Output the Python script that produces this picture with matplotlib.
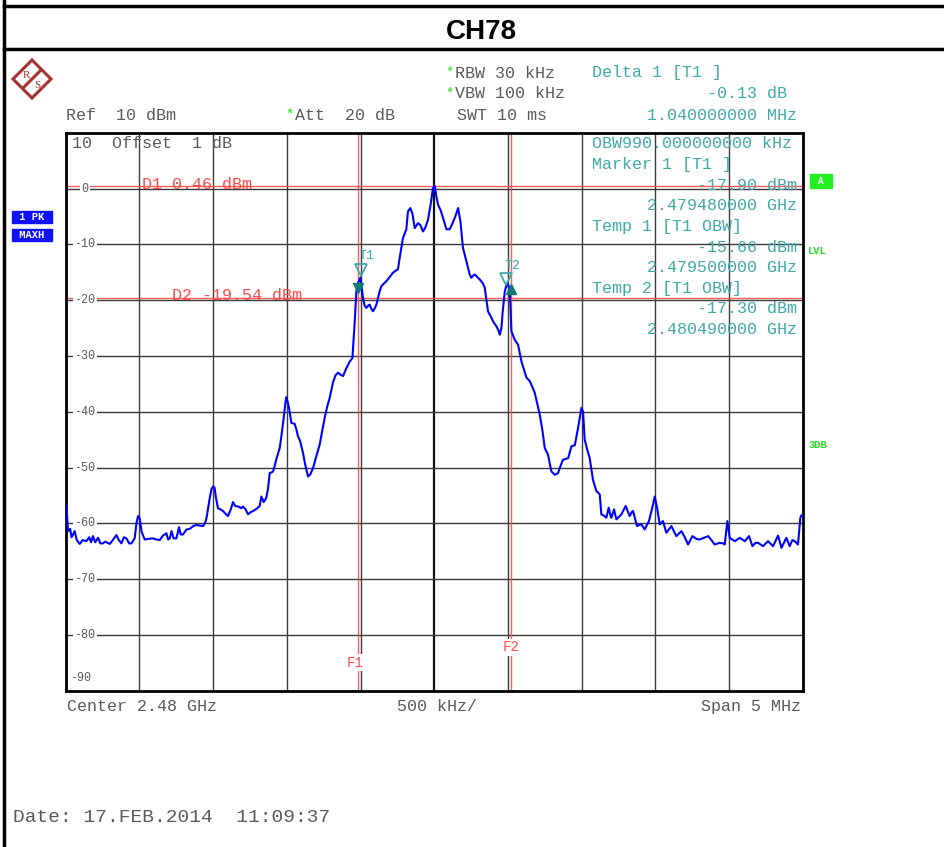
import matplotlib
matplotlib.use("Agg")
import matplotlib.pyplot as plt
from matplotlib.lines import Line2D
from matplotlib.patches import Polygon
import matplotlib.transforms as mtransforms

# ---------------- data ----------------
title = "CH78"
freq_mhz = [
    2477.500, 2477.505, 2477.516, 2477.530, 2477.540, 2477.550, 2477.561, 2477.575, 2477.595, 2477.615,
    2477.640, 2477.660, 2477.672, 2477.685, 2477.700, 2477.720, 2477.735, 2477.751, 2477.770, 2477.799,
    2477.820, 2477.844, 2477.860, 2477.878, 2477.895, 2477.912, 2477.930, 2477.946, 2477.968, 2477.980,
    2477.991, 2478.002, 2478.015, 2478.036, 2478.060, 2478.092, 2478.115, 2478.138, 2478.160, 2478.183,
    2478.195, 2478.206, 2478.218, 2478.232, 2478.251, 2478.269, 2478.280, 2478.296, 2478.320, 2478.341,
    2478.365, 2478.387, 2478.410, 2478.431, 2478.445, 2478.455, 2478.477, 2478.490, 2478.499, 2478.510,
    2478.518, 2478.533, 2478.550, 2478.567, 2478.585, 2478.601, 2478.620, 2478.635, 2478.650, 2478.672,
    2478.690, 2478.703, 2478.720, 2478.737, 2478.755, 2478.771, 2478.795, 2478.816, 2478.828, 2478.843,
    2478.860, 2478.872, 2478.884, 2478.895, 2478.907, 2478.920, 2478.929, 2478.952, 2478.963, 2478.979,
    2478.990, 2478.997, 2479.005, 2479.015, 2479.031, 2479.054, 2479.065, 2479.076, 2479.090, 2479.110,
    2479.125, 2479.144, 2479.160, 2479.178, 2479.200, 2479.223, 2479.240, 2479.257, 2479.275, 2479.291,
    2479.313, 2479.330, 2479.348, 2479.365, 2479.382, 2479.404, 2479.427, 2479.445, 2479.461, 2479.472,
    2479.479, 2479.490, 2479.499, 2479.507, 2479.517, 2479.528, 2479.540, 2479.551, 2479.562, 2479.574,
    2479.585, 2479.596, 2479.608, 2479.630, 2479.642, 2479.660, 2479.676, 2479.700, 2479.720, 2479.740,
    2479.754, 2479.766, 2479.788, 2479.811, 2479.822, 2479.838, 2479.852, 2479.868, 2479.880, 2479.890,
    2479.905, 2479.924, 2479.940, 2479.958, 2479.975, 2479.992, 2480.004, 2480.015, 2480.026, 2480.045,
    2480.060, 2480.083, 2480.105, 2480.120, 2480.139, 2480.150, 2480.162, 2480.178, 2480.195, 2480.218,
    2480.241, 2480.252, 2480.265, 2480.275, 2480.290, 2480.309, 2480.330, 2480.343, 2480.365, 2480.385,
    2480.399, 2480.422, 2480.435, 2480.445, 2480.456, 2480.465, 2480.479, 2480.495, 2480.505, 2480.513,
    2480.524, 2480.546, 2480.569, 2480.592, 2480.626, 2480.648, 2480.665, 2480.682, 2480.716, 2480.735,
    2480.750, 2480.772, 2480.795, 2480.818, 2480.840, 2480.860, 2480.874, 2480.890, 2480.909, 2480.931,
    2480.954, 2480.976, 2480.999, 2481.010, 2481.021, 2481.040, 2481.055, 2481.077, 2481.100, 2481.123,
    2481.134, 2481.150, 2481.168, 2481.184, 2481.195, 2481.202, 2481.220, 2481.236, 2481.255, 2481.270,
    2481.299, 2481.326, 2481.340, 2481.349, 2481.376, 2481.390, 2481.406, 2481.428, 2481.457, 2481.485,
    2481.496, 2481.512, 2481.530, 2481.552, 2481.575, 2481.609, 2481.643, 2481.677, 2481.700, 2481.722,
    2481.752, 2481.780, 2481.801, 2481.830, 2481.859, 2481.880, 2481.903, 2481.937, 2481.960, 2481.971,
    2481.989, 2482.005, 2482.039, 2482.073, 2482.107, 2482.136, 2482.159, 2482.180, 2482.197, 2482.231,
    2482.265, 2482.299, 2482.333, 2482.356, 2482.389, 2482.412, 2482.430, 2482.446, 2482.468, 2482.484,
    2482.491, 2482.500,
]
level_dbm = [
    -57.0, -56.9, -61.4, -61.0, -62.5, -62.0, -61.4, -63.0, -63.7, -63.0,
    -63.2, -62.5, -63.4, -62.3, -63.4, -62.6, -63.6, -63.6, -63.3, -63.7,
    -63.0, -62.1, -63.0, -63.6, -62.5, -62.7, -63.6, -63.6, -62.7, -60.0,
    -58.7, -59.1, -61.5, -62.9, -62.8, -62.7, -62.9, -63.0, -62.2, -61.8,
    -62.9, -62.7, -61.4, -62.7, -62.7, -60.7, -62.0, -62.0, -61.1, -61.0,
    -60.5, -60.3, -60.4, -60.5, -60.0, -59.1, -55.5, -53.8, -53.4, -53.6,
    -55.2, -57.3, -57.5, -57.8, -58.3, -58.7, -57.5, -56.2, -56.9, -57.0,
    -57.3, -57.0, -57.5, -58.4, -58.0, -57.8, -57.4, -56.9, -55.2, -56.2,
    -55.5, -53.9, -51.0, -50.9, -50.7, -49.5, -48.5, -46.5, -44.4, -41.1,
    -38.5, -37.4, -38.2, -39.3, -42.0, -42.2, -43.2, -44.4, -45.2, -47.4,
    -49.5, -51.6, -51.2, -50.1, -48.0, -45.9, -43.5, -41.1, -39.0, -37.5,
    -34.8, -33.5, -33.0, -33.4, -33.6, -32.2, -31.0, -30.4, -23.8, -18.4,
    -17.2, -16.5, -16.0, -17.5, -19.6, -21.0, -21.4, -21.0, -20.8, -21.6,
    -22.0, -21.5, -20.8, -18.4, -17.5, -17.0, -16.6, -15.8, -15.1, -14.7,
    -14.5, -12.4, -8.9, -7.3, -4.1, -3.5, -4.5, -7.1, -6.6, -6.2,
    -6.5, -7.7, -7.0, -5.6, -3.0, 0.1, 0.46, -1.5, -2.9, -4.0,
    -5.3, -7.3, -7.3, -6.5, -5.3, -4.5, -3.5, -5.9, -10.6, -13.0,
    -15.4, -16.0, -15.6, -15.4, -15.8, -16.3, -17.0, -17.8, -22.0, -23.0,
    -23.8, -24.7, -25.4, -26.2, -25.0, -22.0, -18.4, -16.9, -17.5, -18.4,
    -25.6, -27.1, -28.0, -31.0, -33.9, -34.5, -35.5, -36.6, -40.5, -43.5,
    -46.5, -47.7, -50.7, -51.3, -51.0, -49.5, -48.6, -48.5, -48.3, -46.2,
    -46.0, -42.9, -39.3, -40.0, -45.0, -47.0, -48.3, -52.2, -54.2, -54.8,
    -58.4, -58.6, -59.0, -57.2, -58.5, -59.0, -57.5, -59.3, -58.8, -58.4,
    -56.9, -58.7, -58.0, -57.8, -60.5, -60.3, -60.2, -61.1, -59.6, -56.6,
    -55.2, -57.2, -60.2, -59.6, -61.7, -60.5, -62.3, -61.4, -62.5, -63.8,
    -62.3, -62.8, -62.9, -62.6, -62.3, -63.0, -63.8, -63.5, -63.6, -63.8,
    -59.6, -62.6, -63.2, -62.6, -63.2, -62.3, -64.1, -63.5, -63.5, -64.1,
    -63.2, -64.1, -62.2, -64.4, -62.6, -64.1, -63.0, -63.2, -63.8, -59.0,
    -58.6, -58.5,
]
center_mhz = 2480.0
span_mhz = 5.0
ref_level = 10
y_bottom = -90
y_tick_values = [0, -10, -20, -30, -40, -50, -60, -70, -80]
d1_level, d1_label = 0.46, "D1 0.46 dBm"
d2_level, d2_label = -19.54, "D2 -19.54 dBm"
f1_mhz, f2_mhz = 2479.48, 2480.52
marker1 = (2479.48, -17.90)
delta1 = (2480.52, -18.03)
temp1 = (2479.50, -15.66)
temp2 = (2480.49, -17.30)
info_lines = [
    ("OBW990.000000000 kHz", "l"),
    ("Marker 1 [T1 ]", "l"),
    ("-17.90 dBm", "r"),
    ("2.479480000 GHz", "r"),
    ("Temp 1 [T1 OBW]", "l"),
    ("-15.66 dBm", "r"),
    ("2.479500000 GHz", "r"),
    ("Temp 2 [T1 OBW]", "l"),
    ("-17.30 dBm", "r"),
    ("2.480490000 GHz", "r"),
]

# ---------------- figure ----------------
W, H = 945, 847
fig = plt.figure(figsize=(W / 100, H / 100), dpi=100)
fig.patch.set_facecolor("white")

MONO = "Liberation Mono"
GRAY = "#5a5a5a"
TEAL = "#40a8a8"
RED = "#ff4a4a"
GREEN = "#22dd22"


def fx(x):
    return x / W


def fy(y):
    return 1 - y / H


def ftext(x, y, s, **kw):
    kw.setdefault("family", MONO)
    kw.setdefault("color", GRAY)
    kw.setdefault("fontsize", 12)
    kw.setdefault("va", "center")
    fig.text(fx(x), fy(y), s, **kw)


def fline(xs, ys, **kw):
    fig.add_artist(Line2D([fx(v) for v in xs], [fy(v) for v in ys],
                          transform=fig.transFigure, **kw))


# page frame
fline([4, 945], [6, 6], color="black", lw=2.5)
fline([4, 945], [49, 49], color="black", lw=2.5)
fline([4, 4], [0, 847], color="black", lw=2.5)
fig.text(fx(481), fy(32), title, ha="center", va="center", fontsize=20,
         fontweight="bold", family="Liberation Sans", color="black")

# R&S logo
cx, cy, r = 32, 79, 19
LOGO = "#a83232"
logo = Polygon([(fx(cx), fy(cy - r)), (fx(cx + r), fy(cy)), (fx(cx), fy(cy + r)),
                (fx(cx - r), fy(cy))], closed=True, fill=False, ec=LOGO, lw=2.2,
               transform=fig.transFigure)
fig.add_artist(logo)
fline([cx + 8, cx - 8], [cy - 8, cy + 8], color=LOGO, lw=2.2)
ftext(cx - 6, cy - 4, "R", fontsize=8, color=LOGO, ha="center", family="Liberation Serif")
ftext(cx + 5, cy + 7, "S", fontsize=8, color=LOGO, ha="center", family="Liberation Serif")

# header texts
ftext(445, 73, "*", color=GREEN, fontsize=10, ha="left")
ftext(455, 73, "RBW 30 kHz", ha="left")
ftext(445, 94, "*", color=GREEN, fontsize=10, ha="left")
ftext(455, 94, "VBW 100 kHz", ha="left")
ftext(66, 115, "Ref  10 dBm", ha="left")
ftext(285, 115, "*", color=GREEN, fontsize=10, ha="left")
ftext(295, 115, "Att  20 dB", ha="left")
ftext(457, 115, "SWT 10 ms", ha="left")
ftext(592, 73, "Delta 1 [T1 ]", color=TEAL, ha="left")
ftext(787, 94, "-0.13 dB", color=TEAL, ha="right")
ftext(797, 115, "1.040000000 MHz", color=TEAL, ha="right")

# side labels
for yy, s in [(217, " 1 PK "), (235, " MAXH ")]:
    ftext(32, yy, s, color="white", fontsize=7.5, fontweight="bold", ha="center",
          bbox=dict(boxstyle="square,pad=0.12", fc="#1010ff", ec="#1010ff"))
ftext(821, 181, " A ", color="white", fontsize=7, fontweight="bold", ha="center",
      bbox=dict(boxstyle="square,pad=0.25", fc="#22ee22", ec="#22ee22"))
ftext(808, 251, "LVL", color=GREEN, fontsize=7.5, fontweight="bold", ha="left")
ftext(808, 445, "3DB", color=GREEN, fontsize=7.5, fontweight="bold", ha="left")

# ---------------- plot area ----------------
L, R_, T, B = 65.7, 802.7, 132.7, 690.7
ax = fig.add_axes([fx(L), fy(B), (R_ - L) / W, (B - T) / H])
x0 = center_mhz - span_mhz / 2
x1 = center_mhz + span_mhz / 2
ax.set_xlim(x0, x1)
ax.set_ylim(y_bottom, ref_level)
ax.set_xticks([])
ax.set_yticks([])
for sp in ax.spines.values():
    sp.set_linewidth(2)
    sp.set_color("black")

# grid
for i in range(1, 10):
    fv = x0 + i * span_mhz / 10
    ax.axvline(fv, color="#111111" if i == 5 else "#3a3a3a",
               lw=1.6 if i == 5 else 1.0, zorder=1)
for v in y_tick_values:
    ax.axhline(v, color="#3a3a3a", lw=1.0, zorder=1)

# reference lines
for lvl in (d1_level, d2_level):
    ax.axhline(lvl, color=RED, lw=1.0, zorder=2, alpha=0.9)
for fv in (f1_mhz, f2_mhz):
    ax.axvline(fv, color=RED, lw=1.0, zorder=2, alpha=0.9)

# trace
ax.plot(freq_mhz, level_dbm, color="#0000ff", lw=1.5, zorder=4)

# y labels inside the plot
for v in y_tick_values:
    ax.text(x0 + 0.13, v, str(v), family=MONO, fontsize=8.5,
            color=GRAY, ha="center", va="center", zorder=3,
            bbox=dict(boxstyle="square,pad=0.1", fc="white", ec="none"))
ax.text(x0 + 0.03, y_bottom + 2.2, "-90", family=MONO, fontsize=8.5, color=GRAY,
        ha="left", va="center", zorder=3)
ax.text(x0 + 0.04, ref_level - 1.9, "10  Offset  1 dB", family=MONO, fontsize=12,
        color=GRAY, ha="left", va="center", zorder=5)

# D1 / D2 labels
ax.text(2478.02, d1_level + 0.3, d1_label, family=MONO, fontsize=12, color=RED,
        ha="left", va="center", zorder=5)
ax.text(2478.22, d2_level + 0.3, d2_label, family=MONO, fontsize=12, color=RED,
        ha="left", va="center", zorder=5)

# F1 / F2 labels
ax.text(f1_mhz - 0.02, -85.0, "F1", family=MONO, fontsize=10, color=RED,
        ha="center", va="center", zorder=5,
        bbox=dict(boxstyle="square,pad=0.1", fc="white", ec="none"))
ax.text(f2_mhz, -82.2, "F2", family=MONO, fontsize=10, color=RED,
        ha="center", va="center", zorder=5,
        bbox=dict(boxstyle="square,pad=0.1", fc="white", ec="none"))

# markers
up = mtransforms.offset_copy(ax.transData, fig=fig, x=0, y=4, units="points")
ax.plot([temp1[0], temp2[0]], [temp1[1], temp2[1]], marker="v", ls="none",
        ms=8, mfc="none", mec=TEAL, mew=1.3, transform=up, zorder=6)
ax.plot([marker1[0]], [marker1[1]], marker="v", ls="none", ms=7,
        color="#137a70", zorder=6)
ax.plot([delta1[0]], [delta1[1]], marker="^", ls="none", ms=7,
        color="#137a70", zorder=6)
ax.text(temp1[0] + 0.04, temp1[1] + 3.5, "T1", family=MONO, fontsize=9.5,
        color=TEAL, ha="center", va="center", zorder=6)
ax.text(temp2[0] + 0.04, temp2[1] + 3.5, "T2", family=MONO, fontsize=9.5,
        color=TEAL, ha="center", va="center", zorder=6)

# info block inside the plot
for i, (s, al) in enumerate(info_lines):
    yy = 144 + i * 20.6
    if al == "l":
        ftext(592, yy, s, color=TEAL, ha="left", zorder=10)
    else:
        ftext(797, yy, s, color=TEAL, ha="right", zorder=10)

# footer
ftext(67, 706, "Center 2.48 GHz", ha="left")
ftext(437, 706, "500 kHz/", ha="center")
ftext(801, 706, "Span 5 MHz", ha="right")
ftext(13, 817, "Date: 17.FEB.2014  11:09:37", ha="left", fontsize=14)

fig.savefig("out.png", dpi=100)
